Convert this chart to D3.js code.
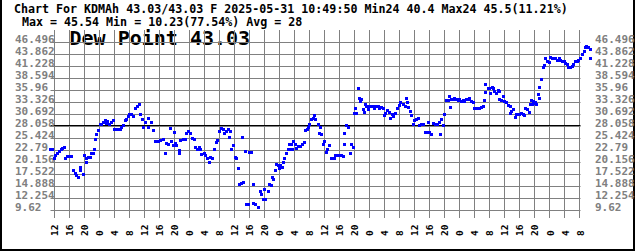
<!DOCTYPE html>
<html><head><meta charset="utf-8">
<script src="https://cdn.jsdelivr.net/npm/d3@7"></script>
<style>body{margin:0;background:#fff}svg{display:block}</style>
</head><body>
<svg id="c" width="636" height="251"></svg>
<script>
const titleLine1 = "Chart For KDMAh 43.03/43.03 F 2025-05-31 10:49:50 Min24 40.4 Max24 45.5(11.21%)";
const titleLine2 = " Max = 45.54 Min = 10.23(77.54%) Avg = 28";
const chartLabel = "Dew Point 43.03";
const yTickLabels = ["46.496","43.862","41.228","38.594","35.96","33.326","30.692","28.058","25.424","22.79","20.156","17.522","14.888","12.254","9.62"];
const avgValue = 28;
const axisStart = "2025-05-25T12:00:00Z";
const axisEnd = "2025-05-31T08:00:00Z";
// hours after axisStart
const hoursFromStart = [-0.88,-0.35,0.00,0.45,0.91,1.33,1.79,2.24,2.66,3.04,3.46,4.00,4.64,5.06,5.52,5.97,6.58,7.03,7.11,7.73,7.99,8.45,8.58,9.06,9.59,9.97,10.50,10.66,10.92,11.19,11.72,12.18,12.63,13.06,13.51,13.78,14.23,14.58,15.11,15.72,15.99,16.52,17.05,17.51,17.96,18.39,18.84,19.29,19.72,20.17,20.62,21.05,21.69,22.12,22.65,23.02,23.45,23.90,24.35,25.05,25.23,25.77,26.38,27.02,27.71,28.43,29.04,29.50,29.95,30.56,31.02,31.28,31.71,31.97,32.35,32.61,33.23,33.49,33.76,34.37,35.01,35.28,35.89,36.42,36.88,37.30,37.68,38.21,38.64,38.90,39.28,39.89,40.34,40.87,41.30,41.67,42.21,42.63,43.09,43.43,44.15,44.60,45.03,45.48,45.94,46.36,46.63,46.82,47.27,47.80,48.15,48.60,49.03,49.48,49.93,50.06,50.54,50.99,51.26,51.69,51.96,52.60,53.02,53.21,53.66,54.36,55.00,55.26,55.69,56.14,56.41,56.98,57.25,57.79,58.19,58.54,58.99,59.26,59.69,60.14,60.33,60.75,61.20,61.47,61.92,62.35,62.80,62.93,63.26,63.42,63.87,64.32,64.59,65.01,65.65,66.08,66.61,66.98,67.41,67.68,68.13,68.58,69.01,69.28,69.73,70.34,70.61,70.98,71.25,71.68,71.94,72.40,72.85,73.27,73.91,74.53,74.98,75.51,76.13,76.58,77.00,77.27,77.46,77.91,78.52,78.98,79.24,79.67,79.94,80.31,80.58,81.00,81.27,81.72,81.91,82.33,82.60,82.97,83.32,83.67,84.12,84.57,85.00,85.45,85.90,86.33,86.78,87.23,87.66,87.93,88.38,88.83,89.45,89.71,90.17,90.51,90.97,91.50,91.93,92.38,92.99,93.45,93.79,94.16,94.51,94.96,95.23,95.66,96.11,96.56,96.99,97.44,97.89,98.51,98.96,99.39,99.65,100.11,100.56,100.99,101.62,102.16,102.58,102.85,103.22,103.65,104.02,104.45,104.98,105.25,105.62,105.89,106.32,106.77,107.22,107.65,108.10,108.55,108.98,109.43,109.88,110.31,110.76,111.21,111.64,112.10,112.55,112.98,113.43,113.89,114.31,114.58,114.93,115.01,115.63,116.07,116.15,116.71,117.16,117.43,117.88,118.31,118.58,118.76,119.21,119.64,120.09,120.55,120.97,121.43,121.64,121.88,122.30,122.76,123.21,123.64,124.09,124.54,124.97,125.42,125.69,126.14,126.57,127.02,127.20,127.47,127.63,128.09,128.27,128.54,128.97,129.16,129.42,129.87,130.30,130.56,131.02,131.47,131.90,132.35,132.80,133.23,133.68,134.13,134.56,135.01,135.46,135.88,136.34,136.68,137.14,137.59,138.02,138.47,138.93,139.35,139.81,140.34,140.69,141.15,141.60,141.87,142.30,142.75,142.83];
const dewPoint = [22.94,22.94,21.10,21.70,22.20,22.60,23.10,23.30,23.50,21.10,21.55,21.50,21.40,18.30,17.80,17.30,16.90,19.15,18.30,17.50,21.70,20.25,21.10,21.35,21.35,22.20,22.05,23.10,25.30,26.20,27.26,28.40,28.60,29.00,29.40,28.80,29.20,28.60,28.90,29.40,27.50,27.33,27.33,27.50,27.84,28.20,29.30,29.68,30.25,30.78,30.78,30.25,32.10,32.45,32.97,30.78,29.68,27.90,29.00,29.90,27.90,29.00,27.10,24.77,24.77,24.90,25.10,22.20,24.40,24.04,27.70,24.77,23.80,26.80,24.40,23.80,22.70,22.05,24.90,25.30,25.30,26.60,26.96,26.50,25.50,25.10,23.45,23.10,23.45,22.90,22.00,22.20,21.70,21.10,20.25,21.25,21.10,23.10,24.60,25.07,26.96,27.70,27.33,26.60,26.96,27.40,25.70,26.96,22.94,23.90,21.25,21.10,18.93,15.26,15.63,25.70,15.77,22.57,11.03,11.03,22.40,22.40,11.25,15.40,11.03,10.23,13.80,13.07,11.97,14.16,12.10,13.80,15.40,15.04,16.95,16.50,18.30,19.65,19.43,18.93,19.50,19.15,20.25,21.10,22.05,23.10,24.20,23.10,24.20,22.94,24.77,24.04,23.30,23.67,23.67,24.20,24.60,27.10,27.50,27.84,28.43,29.53,29.90,30.47,29.53,28.43,26.60,27.84,26.40,24.20,24.77,22.40,22.94,23.90,21.10,21.10,21.78,21.78,21.78,21.78,21.55,24.20,26.60,28.28,27.84,22.05,24.20,23.45,31.00,31.95,31.00,36.33,34.30,33.55,33.90,31.70,31.20,32.97,32.45,31.70,32.45,32.45,32.45,32.10,32.45,32.45,31.90,32.30,31.90,30.40,31.00,31.50,31.20,29.90,30.60,30.25,31.00,32.10,32.60,33.40,32.97,32.45,34.30,33.30,32.30,31.35,30.40,28.60,29.30,29.53,29.90,28.20,28.60,28.43,26.80,26.80,29.00,26.80,26.40,28.70,28.60,28.60,29.00,26.20,29.68,28.20,30.78,33.70,33.77,34.60,32.30,34.07,34.00,34.30,33.90,33.80,34.00,33.60,33.80,33.60,33.90,34.00,34.30,33.60,33.30,32.10,31.90,32.00,31.90,32.20,32.45,33.70,37.20,35.60,36.30,36.50,35.20,36.60,36.30,35.75,35.20,35.90,35.75,34.00,33.80,34.60,33.50,33.30,32.60,32.45,30.85,31.30,31.70,30.04,30.60,30.70,30.80,30.85,30.70,30.50,32.10,31.70,31.20,32.90,33.80,32.90,33.60,33.00,33.30,32.90,35.17,34.30,36.60,38.46,40.90,41.45,42.90,42.30,42.10,43.20,43.00,42.90,42.90,42.60,42.90,42.60,42.40,42.30,41.90,41.60,40.90,41.00,41.20,41.75,42.30,42.30,42.50,42.90,43.80,44.50,45.30,45.54,45.30,44.90,43.03];

const svg = d3.select("#c");
const mono = "'DejaVu Sans Mono', 'Liberation Mono', monospace";
const t0 = new Date(axisStart), t1 = new Date(axisEnd);
const x = d3.scaleUtc().domain([t0, t1]).range([54.3, 579.7]);
const yVals = yTickLabels.map(Number);
const y = d3.scaleLinear().domain([d3.min(yVals), d3.max(yVals)]).range([210.5, 42.5]);

const data = hoursFromStart.map((h, i) => ({t: new Date(t0.getTime() + h * 3600e3), v: dewPoint[i]}));

// border
svg.append("path").attr("d", "M1,0V250H634V0").attr("fill", "none").attr("stroke", "#000").attr("stroke-width", 2);

const gx0 = 50.5, gx1 = 580.5;
const xticks = d3.utcHour.every(4).range(t0, new Date(t1.getTime() + 1));

// big label (under the grid)
svg.append("text").attr("x", 69.5).attr("y", 44.8).attr("font-family", mono).attr("font-weight", "bold")
  .attr("font-size", "20px").attr("fill", "#000").text(chartLabel);

// vertical grid
svg.append("g").selectAll("line").data(xticks).join("line")
  .attr("x1", d => Math.floor(x(d)) + 0.5).attr("x2", d => Math.floor(x(d)) + 0.5)
  .attr("y1", 30).attr("y2", 218)
  .attr("stroke", "#808080").attr("stroke-width", 1);
// horizontal grid
svg.append("g").selectAll("line").data(yVals).join("line")
  .attr("x1", gx0).attr("x2", gx1)
  .attr("y1", d => Math.floor(y(d)) + 0.5).attr("y2", d => Math.floor(y(d)) + 0.5)
  .attr("stroke", "#808080").attr("stroke-width", 1);
// average line
svg.append("line").attr("x1", gx0).attr("x2", gx1)
  .attr("y1", Math.floor(y(avgValue)) - 0.5).attr("y2", Math.floor(y(avgValue)) - 0.5)
  .attr("stroke", "#000").attr("stroke-width", 1);

// y labels left and right
const yl = svg.append("g").attr("font-family", mono).attr("font-weight", "bold").attr("font-size", "11px").attr("fill", "#808080");
yl.selectAll("text.l").data(yTickLabels).join("text").attr("class", "l")
  .attr("x", 15).attr("y", d => y(+d) + 0.5).text(d => d);
yl.selectAll("text.r").data(yTickLabels).join("text").attr("class", "r")
  .attr("x", 595).attr("y", d => y(+d) + 0.5).text(d => d);

// x labels
svg.append("g").attr("font-family", mono).attr("font-weight", "bold").attr("font-size", "9.5px").attr("fill", "#000")
  .selectAll("text").data(xticks).join("text")
  .attr("transform", d => `translate(${x(d) + 0.5},236) rotate(-90)`)
  .attr("dy", "0.35em")
  .text(d => d.getUTCHours());

// titles
svg.append("text").attr("x", 14).attr("y", 13).attr("font-family", mono).attr("font-weight", "bold")
  .attr("font-size", "11.65px").style("white-space", "pre").text(titleLine1);
svg.append("text").attr("x", 15).attr("y", 26).attr("font-family", mono).attr("font-weight", "bold")
  .attr("font-size", "11.65px").style("white-space", "pre").text(titleLine2);

// points
svg.append("g").selectAll("rect").data(data).join("rect")
  .attr("x", d => Math.round(x(d.t) - 1.5)).attr("y", d => Math.round(y(d.v) - 1.5))
  .attr("width", 3).attr("height", 3).attr("fill", "#0000ff");
</script>
</body></html>
